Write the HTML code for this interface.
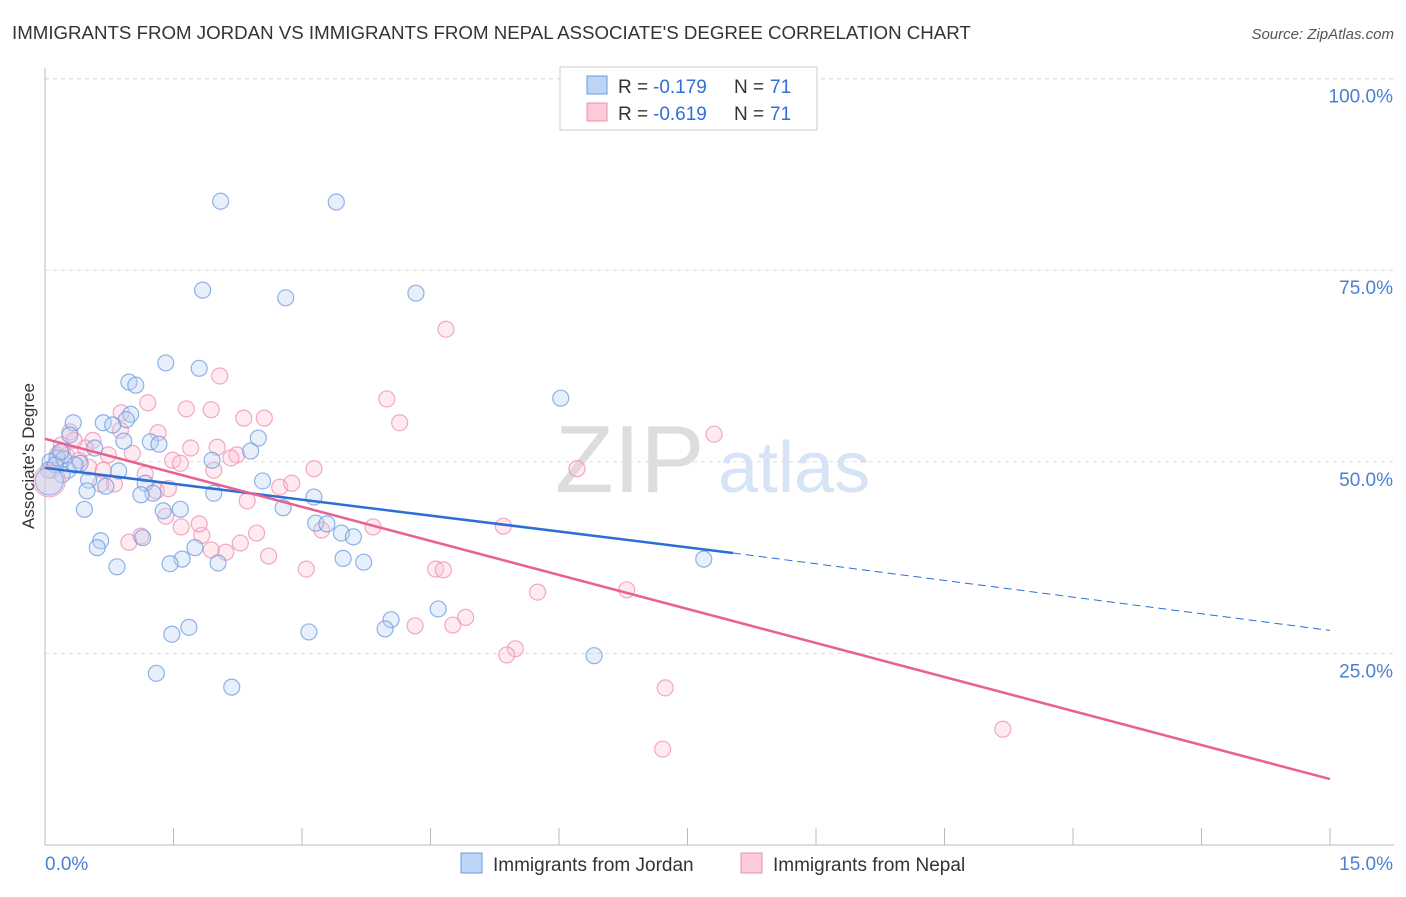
<!DOCTYPE html>
<html><head><meta charset="utf-8"><style>
body{margin:0;background:#fff;font-family:"Liberation Sans",sans-serif;}
svg text{font-family:"Liberation Sans",sans-serif;}
</style></head><body>
<svg id="chart" width="1406" height="892" xmlns="http://www.w3.org/2000/svg">
<text x="12" y="39" font-size="18.7" fill="#333">IMMIGRANTS FROM JORDAN VS IMMIGRANTS FROM NEPAL ASSOCIATE'S DEGREE CORRELATION CHART</text>
<text x="1394" y="39" font-size="15" fill="#555" text-anchor="end" font-style="italic">Source: ZipAtlas.com</text>
<text x="555" y="492" font-size="96" fill="#ddd" font-family="Liberation Serif">ZIP</text>
<text x="718" y="492" font-size="72" fill="#d6e4f5">atlas</text>
<g id="grid"></g>
<g id="axes"></g>
<g id="pts"></g>
<g id="lines"></g>
<text transform="translate(34,456) rotate(-90)" font-size="17" fill="#333" text-anchor="middle">Associate's Degree</text>
<g>
<rect x="560" y="67" width="257" height="63" fill="#fff" stroke="#ccc"/>
<rect x="587" y="76" width="20" height="18" fill="#bcd4f5" stroke="#6a9be0"/>
<rect x="587" y="103" width="20" height="18" fill="#fbcbd8" stroke="#ec8fae"/>
<text x="618" y="93" font-size="19" fill="#333">R =</text>
<text x="653" y="93" font-size="19" fill="#2f6fd6">-0.179</text>
<text x="734" y="93" font-size="19" fill="#333">N =</text>
<text x="770" y="93" font-size="19" fill="#2f6fd6">71</text>
<text x="618" y="120" font-size="19" fill="#333">R =</text>
<text x="653" y="120" font-size="19" fill="#2f6fd6">-0.619</text>
<text x="734" y="120" font-size="19" fill="#333">N =</text>
<text x="770" y="120" font-size="19" fill="#2f6fd6">71</text>
</g>
<g>
<rect x="461" y="853" width="21" height="20" fill="#bcd4f5" stroke="#6a9be0"/>
<text x="493" y="871" font-size="19" fill="#333">Immigrants from Jordan</text>
<rect x="741" y="853" width="21" height="20" fill="#fbcbd8" stroke="#ec8fae"/>
<text x="773" y="871" font-size="19" fill="#333">Immigrants from Nepal</text>
</g>
</svg>
<script>
const xTicks=[0,1.5,3,4.5,6,7.5,9,10.5,12,13.5,15];
const yTicks=[25,50,75,100];
const yTickLabels=["25.0%","50.0%","75.0%","100.0%"];
const jordanPx=[[221,201],[336,202],[203,290],[286,298],[416,293],[166,363],[199,368],[129,382],[136,385],[561,398],[73,423],[103,423],[131,414],[126,420],[113,425],[70,435],[124,441],[150,442],[159,444],[258,438],[251,451],[95,448],[57,458],[50,462],[64,459],[80,463],[212,460],[119,471],[68,470],[62,475],[89,480],[145,483],[263,481],[106,486],[87,491],[153,493],[141,495],[214,493],[314,497],[84,509],[180,509],[163,511],[283,508],[316,523],[327,524],[341,533],[353,537],[143,538],[101,541],[97,548],[195,548],[182,559],[170,564],[218,563],[343,558],[364,562],[117,567],[704,559],[438,609],[391,620],[385,629],[189,627],[309,632],[172,634],[594,656],[156,673],[232,687],[48,470],[55,465],[75,465],[60,452]];
const nepalPx=[[446,329],[220,376],[387,399],[148,403],[186,409],[211,410],[121,413],[244,418],[264,418],[400,423],[714,434],[158,433],[70,432],[93,440],[61,445],[132,453],[191,448],[217,447],[237,455],[173,460],[231,458],[180,463],[214,470],[314,469],[577,469],[52,470],[89,467],[103,470],[114,484],[280,487],[292,483],[66,456],[79,460],[156,491],[247,501],[166,516],[181,527],[141,536],[129,542],[202,535],[240,543],[257,533],[322,530],[373,527],[503,526],[269,556],[211,550],[226,552],[306,569],[436,569],[443,570],[538,592],[627,590],[466,617],[453,625],[415,626],[515,649],[507,655],[665,688],[663,749],[1003,729],[57,455],[85,448],[101,484],[62,452],[145,474],[199,524],[168,489],[108,455],[74,440],[120,430]];
const jordanX=jordanPx.map(p=>+((p[0]-45)/85.67).toFixed(2));
const jordanY=jordanPx.map(p=>+((845-p[1])/7.664).toFixed(1));
const nepalX=nepalPx.map(p=>+((p[0]-45)/85.67).toFixed(2));
const nepalY=nepalPx.map(p=>+((845-p[1])/7.664).toFixed(1));
const jordanTrend=[[0,49.2],[8.03,38.1],[15,28.0]];
const nepalTrend=[[0,53.0],[15,8.6]];
const xs=v=>45+v*(1285/15), ys=v=>845-v*7.664;
const NS="http://www.w3.org/2000/svg";
function mk(t,a,p){const e=document.createElementNS(NS,t);for(const k in a)e.setAttribute(k,a[k]);p.appendChild(e);return e;}
const grid=document.getElementById('grid'),axes=document.getElementById('axes'),pts=document.getElementById('pts'),lines=document.getElementById('lines');
yTicks.forEach((v,i)=>{const l=mk('line',{x1:45,x2:1394,y1:ys(v),y2:ys(v),stroke:'#ddd','stroke-dasharray':'4,4'},grid);


const t=mk('text',{x:1393,y:ys(v)+24,'font-size':19,fill:'#4a7fd4','text-anchor':'end'},axes);t.textContent=yTickLabels[i];

});
const gl=mk('line',{x1:45,x2:1394,y1:79,y2:79,stroke:'#ddd','stroke-dasharray':'4,4'},grid);


const ya=mk('line',{x1:45,x2:45,y1:68,y2:845,stroke:'#bbb'},axes);


const xa=mk('line',{x1:45,x2:1394,y1:845,y2:845,stroke:'#bbb'},axes);


xTicks.forEach(v=>{const l=mk('line',{x1:xs(v),x2:xs(v),y1:828,y2:845,stroke:'#bbb'},axes);

});
const x0=mk('text',{x:45,y:870,'font-size':19,fill:'#4a7fd4'},axes);x0.textContent='0.0%';


const x1=mk('text',{x:1393,y:870,'font-size':19,fill:'#4a7fd4','text-anchor':'end'},axes);x1.textContent='15.0%';


function dots(X,Y,fill,stroke,name){X.forEach((x,i)=>{const c=mk('circle',{cx:xs(x),cy:ys(Y[i]),r:8,fill:fill,'fill-opacity':0.35,stroke:stroke,'stroke-opacity':0.75,'stroke-width':1.2},pts);

});}
dots(nepalX,nepalY,'#fbc3d3','#ec8fae','nepal-point');
dots(jordanX,jordanY,'#b9d2f3','#6b9be0','jordan-point');
const bigN=mk('circle',{cx:xs(0.05),cy:ys(47.5),r:16,fill:'#fbc3d3','fill-opacity':0.4,stroke:'#ec8fae','stroke-opacity':0.75},pts);


const bigJ=mk('circle',{cx:xs(0.05),cy:ys(47.5),r:14,fill:'#b9d2f3','fill-opacity':0.4,stroke:'#6b9be0','stroke-opacity':0.75},pts);


const jt=mk('line',{x1:xs(jordanTrend[0][0]),y1:ys(jordanTrend[0][1]),x2:xs(jordanTrend[1][0]),y2:ys(jordanTrend[1][1]),stroke:'#2a6fd6','stroke-width':2.5},lines);


const jd=mk('line',{x1:xs(jordanTrend[1][0]),y1:ys(jordanTrend[1][1]),x2:xs(jordanTrend[2][0]),y2:ys(jordanTrend[2][1]),stroke:'#2a6fd6','stroke-width':1,'stroke-dasharray':'8,5'},lines);


const nt=mk('line',{x1:xs(nepalTrend[0][0]),y1:ys(nepalTrend[0][1]),x2:xs(nepalTrend[1][0]),y2:ys(nepalTrend[1][1]),stroke:'#e8628f','stroke-width':2.5},lines);


</script>
</body></html>
